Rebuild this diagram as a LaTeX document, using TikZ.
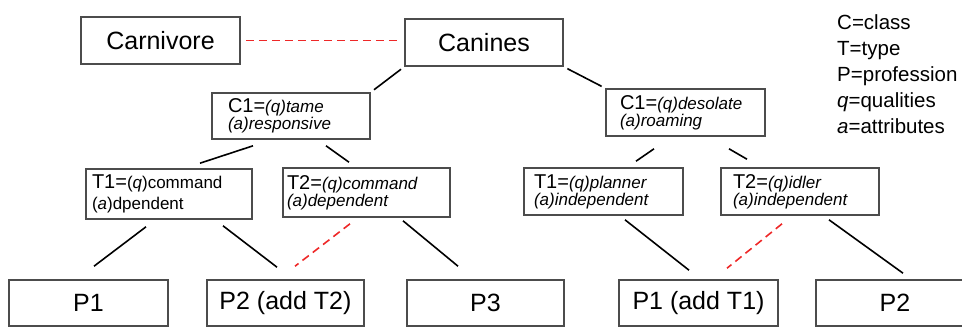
\documentclass[tikz,border=0pt]{standalone}
\usepackage{fontspec}
\setmainfont{Liberation Sans}
\usepackage{tikz}
\usetikzlibrary{calc}
\newcommand{\lbl}[1]{{\fontsize{20}{15}\selectfont #1}}
\definecolor{dashred}{RGB}{238,40,40}
\tikzset{
  box/.style={draw=black!70, line width=1.6pt, minimum height=46pt, inner sep=0pt},
  bigbox/.style={box, minimum width=158pt, font=\fontsize{25}{25}\selectfont},
  sbox/.style={box, align=left, font=\fontsize{17}{15}\selectfont},
  link/.style={line width=1.6pt},
  redlink/.style={line width=1.6pt, dashred, dash pattern=on 8pt off 5pt}
}
\begin{document}
\begin{tikzpicture}[x=1pt,y=-1pt]
            \clip (0,0) rectangle (962,327);
            \node[bigbox, minimum width=159pt, minimum height=47pt] (carn) at (160.5,40.5) {Carnivore};
            \node[bigbox, minimum height=47pt] (can) at (484,42.5) {Canines};
            \node[sbox, text width=126pt, inner xsep=16pt] (c1l) at (291,116) {\lbl{C1=}\textit{(q)tame}\\\textit{(a)responsive}};
            \node[sbox, text width=131pt, inner xsep=14pt, minimum height=47pt] (c1r) at (685.5,112.5) {\lbl{C1=}\textit{(q)desolate}\\\textit{(a)roaming}};
            \node[sbox, text width=154pt, inner xsep=6pt, minimum height=50pt] (t1l) at (169,194) {\lbl{T1=}(\textit{q})command\\[4pt](\textit{a})dpendent};
            \node[sbox, text width=159pt, inner xsep=4pt, minimum height=49pt] (t2l) at (366.5,192.5) {\lbl{T2=}\textit{(q)command}\\\textit{(a)dependent}};
            \node[sbox, text width=139pt, inner xsep=10pt, minimum height=47pt] (t1r) at (603.5,191.5) {\lbl{T1=}\textit{(q)planner}\\\textit{(a)independent}};
            \node[sbox, text width=134pt, inner xsep=12pt, minimum height=47pt] (t2r) at (800,191.5) {\lbl{T2=}\textit{(q)idler}\\\textit{(a)independent}};
            \node[bigbox, minimum width=159pt] (p1) at (88.5,303) {P1};
            \node[bigbox, minimum width=157pt] (p2) at (285.5,303) {P2 (add T2)};
            \node[bigbox, minimum width=157pt] (p3) at (485.5,303) {P3};
            \node[bigbox, minimum width=159pt] (p1b) at (698.5,303) {P1 (add T1)};
            \node[bigbox] (p2b) at (895,303) {P2};
            \node[anchor=north west, inner sep=0pt, align=left, font=\fontsize{20.5}{26}\selectfont] (key) at (837,14)
              {C=class\\T=type\\P=profession\\\textit{q}=qualities\\\textit{a}=attributes};
            % links
            \draw[redlink, shorten <=5pt, shorten >=5pt] (carn.east) -- (carn.east -| can.west);
            \draw[link, shorten <=4pt, shorten >=4pt] (can.south west) -- (c1l.north east);
            \draw[link, shorten <=4pt, shorten >=4pt] (can.south east) -- (c1r.north west);
            \draw[link] ([shift={(-38,6)}]c1l.south) -- ([shift={(31,-5)}]t1l.north);
            \draw[link] ([shift={(35,6)}]c1l.south) -- ([shift={(-17.5,-5)}]t2l.north);
            \draw[link] ([shift={(-31.5,12)}]c1r.south) -- ([shift={(32.5,-6)}]t1r.north);
            \draw[link] ([shift={(43.5,12)}]c1r.south) -- ([shift={(-53,-8)}]t2r.north);
            \draw[link] ([shift={(-23,7)}]t1l.south) -- ([shift={(5.5,-13)}]p1.north);
            \draw[link] ([shift={(54,6)}]t1l.south) -- ([shift={(-8.5,-12)}]p2.north);
            \draw[redlink] ([shift={(-16.5,6)}]t2l.south) -- ([shift={(9.5,-13)}]p2.north);
            \draw[link] ([shift={(36.5,3)}]t2l.south) -- ([shift={(-27.5,-13)}]p3.north);
            \draw[link] ([shift={(21.5,4)}]t1r.south) -- ([shift={(-9.5,-9)}]p1b.north);
            \draw[redlink] ([shift={(-18,8)}]t2r.south) -- ([shift={(28.5,-11)}]p1b.north);
            \draw[link] ([shift={(29,4)}]t2r.south) -- ([shift={(8,-6)}]p2b.north);
        \end{tikzpicture}
\end{document}
